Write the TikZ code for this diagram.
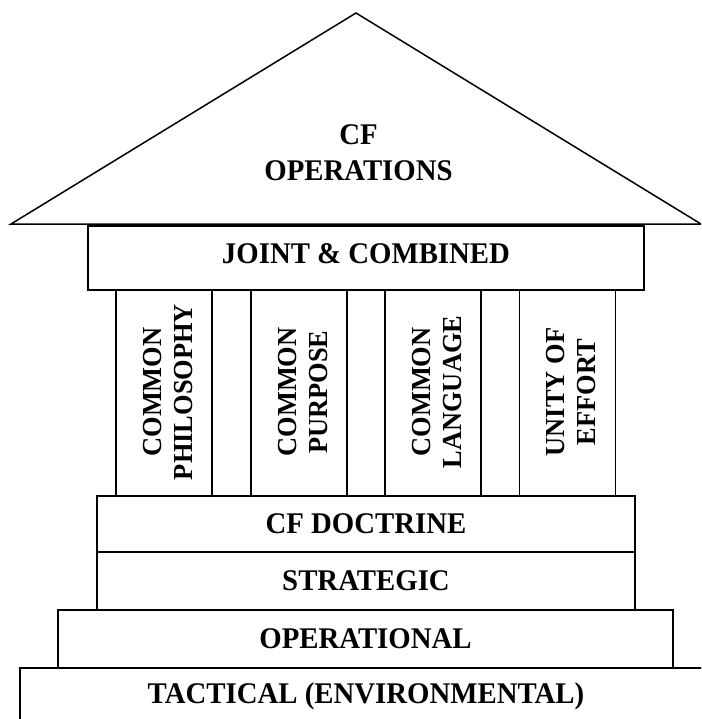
\documentclass[tikz,border=0pt]{standalone}
\usepackage{fontspec}
\setmainfont{Liberation Serif}[FakeStretch=0.96]
\begin{document}
\begin{tikzpicture}[x=1pt,y=-1pt,line width=1.9pt,
  lbl/.style={font=\fontsize{30}{35.5}\selectfont\bfseries, align=center, inner sep=0pt},
  box/.style={draw, rectangle, inner sep=0pt, font=\fontsize{30}{35.5}\selectfont\bfseries},
  pillar/.style={draw, rectangle, inner sep=0pt, minimum width=96pt, minimum height=206pt},
  plbl/.style={inner sep=0pt, rotate=90, align=center, font=\fontsize{27.5}{31}\selectfont\bfseries}]
\useasboundingbox (0,0) rectangle (701,719);
\clip (0,0) rectangle (701,719);
% roof
\coordinate (apex) at (356,13);
\coordinate (rl) at (11,224);
\coordinate (rr) at (701,224);
\draw[line width=1.5pt, line join=miter] (rl) -- (apex) -- (rr) -- cycle;
\node[lbl] (ops) at (358.5,152.75) {CF\\OPERATIONS};
% joint
\node[box, minimum width=556pt, minimum height=64pt] (joint) at (366,258) {};
\node[lbl] (jointtxt) at (366,254) {JOINT \& COMBINED};
% pillars
\node[pillar] (p1) at (164,393) {};
\node[pillar] (p2) at (299,393) {};
\node[pillar] (p3) at (433,393) {};
\node[pillar] (p4) at (567.5,393) {};
\node[plbl] (t1) at (168.5,392) {COMMON\\PHILOSOPHY};
\node[plbl] (t2) at (303,392) {COMMON\\PURPOSE};
\node[plbl] (t3) at (437,392) {COMMON\\LANGUAGE};
\node[plbl] (t4) at (571.5,392) {UNITY OF\\EFFORT};
% base layers
\node[box, minimum width=538pt, minimum height=56pt] (doct) at (366,524) {CF DOCTRINE};
\node[box, minimum width=538pt, minimum height=58pt] (strat) at (366,581) {STRATEGIC};
\node[box, minimum width=615pt, minimum height=58pt] (oper) at (365.5,639) {OPERATIONAL};
\draw (20,668) rectangle (760,760);
\node[lbl] (tact) at (366,696) {TACTICAL (ENVIRONMENTAL)};
\end{tikzpicture}
\end{document}
